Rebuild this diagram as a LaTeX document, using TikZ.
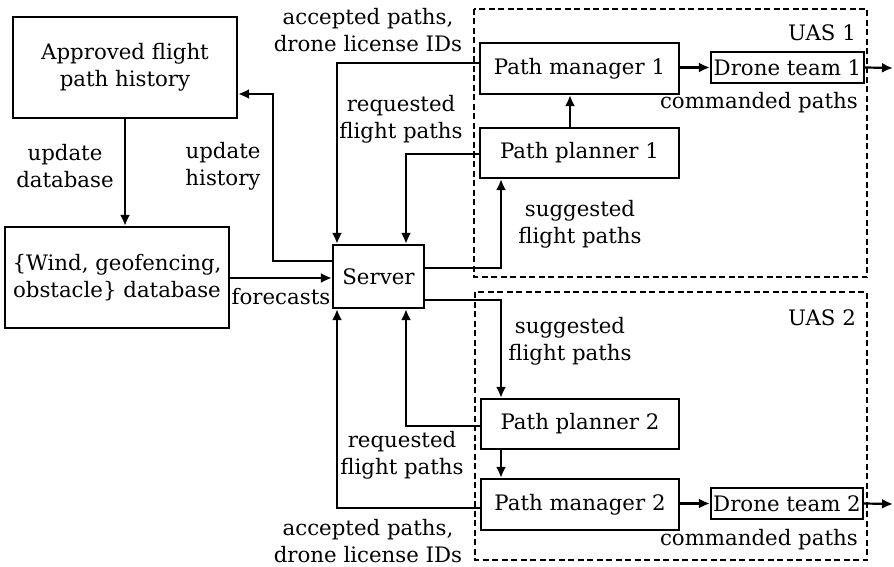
\documentclass[tikz,border=0pt]{standalone}
\usepackage{fontspec}
\setmainfont{DejaVu Serif}
\usetikzlibrary{arrows.meta}

\begin{document}
\begin{tikzpicture}[x=1pt, y=-1pt,
  every node/.style={font=\fontsize{21.3}{27}\selectfont, align=center, inner sep=0pt},
  blk/.style={draw, line width=2.2pt},
  conn/.style={line width=2.2pt, -{Latex[length=11pt,width=10pt]}},
  group/.style={draw, line width=2pt, dash pattern=on 6pt off 3.5pt}
]
\useasboundingbox (0,0) rectangle (894,567);

% UAS groups
\draw[group] (474,9) rectangle (867,277);
\draw[group] (475,292) rectangle (867,560);
\node[anchor=east] (uasA) at (856,33) {UAS 1};
\node[anchor=east] (uasB) at (856,318) {UAS 2};

% blocks
\node[blk, minimum width=224pt, minimum height=101pt] (approved) at (125,67.5) {Approved flight\\path history};
\node[blk, minimum width=224pt, minimum height=101pt] (wind) at (117,277.5) {\{Wind, geofencing,\\obstacle\} database};
\node[blk, minimum width=91pt, minimum height=63pt] (server) at (378.5,276.5) {Server};
\node[blk, minimum width=199pt, minimum height=51pt] (pmA) at (579.5,68.5) {Path manager 1};
\node[blk, minimum width=199pt, minimum height=50pt] (ppA) at (579.5,153) {Path planner 1};
\node[blk, minimum width=153pt, minimum height=31pt] (dtA) at (787.5,67.5) {Drone team 1};
\node[blk, minimum width=198pt, minimum height=50pt] (ppB) at (580,424) {Path planner 2};
\node[blk, minimum width=198pt, minimum height=51pt] (pmB) at (580,504.5) {Path manager 2};
\node[blk, minimum width=152pt, minimum height=31pt] (dtB) at (787,503.5) {Drone team 2};

% free ends of the outgoing command arrows
\coordinate (outA) at (893,68);
\coordinate (outB) at (893,504);

% connectors
\draw[conn] (approved.south -| 125,0) -- (wind.north -| 125,0);
\draw[conn] (wind.east |- 0,278) -- (server.west |- 0,278);
\draw[conn] (server.west |- 0,261) -| (273,94) -- (approved.east |- 0,94);
\draw[conn] (pmA.west |- 0,63) -| (server.north -| 337,0);
\draw[conn] (ppA.west |- 0,154) -| (server.north -| 406,0);
\draw[conn] (server.east |- 0,268) -| (ppA.south -| 501,0);
\draw[conn] (ppA.north -| 570,0) -- (pmA.south -| 570,0);
\draw[conn] (pmA.east |- dtA.west) -- (dtA.west);
\draw[conn] (dtA.east) -- (outA);
\draw[conn] (server.east |- 0,300) -| (ppB.north -| 501,0);
\draw[conn] (ppB.west |- 0,426) -| (server.south -| 406,0);
\draw[conn] (pmB.west |- 0,508) -| (server.south -| 337,0);
\draw[conn] (ppB.south -| 501,0) -- (pmB.north -| 501,0);
\draw[conn] (pmB.east |- dtB.west) -- (dtB.west);
\draw[conn] (dtB.east) -- (outB);

% connector labels
\node (accA) at (368,30) {accepted paths,\\drone license IDs};
\node (accB) at (368,541) {accepted paths,\\drone license IDs};
\node (reqA) at (401,119.5) {requested\\flight paths};
\node (reqB) at (402,455) {requested\\flight paths};
\node (updDb) at (65,166.5) {update\\database};
\node (updHist) at (223,166.5) {update\\history};
\node (sugA) at (580,224) {suggested\\flight paths};
\node (sugB) at (570,341.5) {suggested\\flight paths};
\node (fc) at (281,297) {forecasts};
\node[anchor=east] (cmdA) at (858,103) {commanded paths};
\node[anchor=east] (cmdB) at (858,540) {commanded paths};
\end{tikzpicture}
\end{document}
